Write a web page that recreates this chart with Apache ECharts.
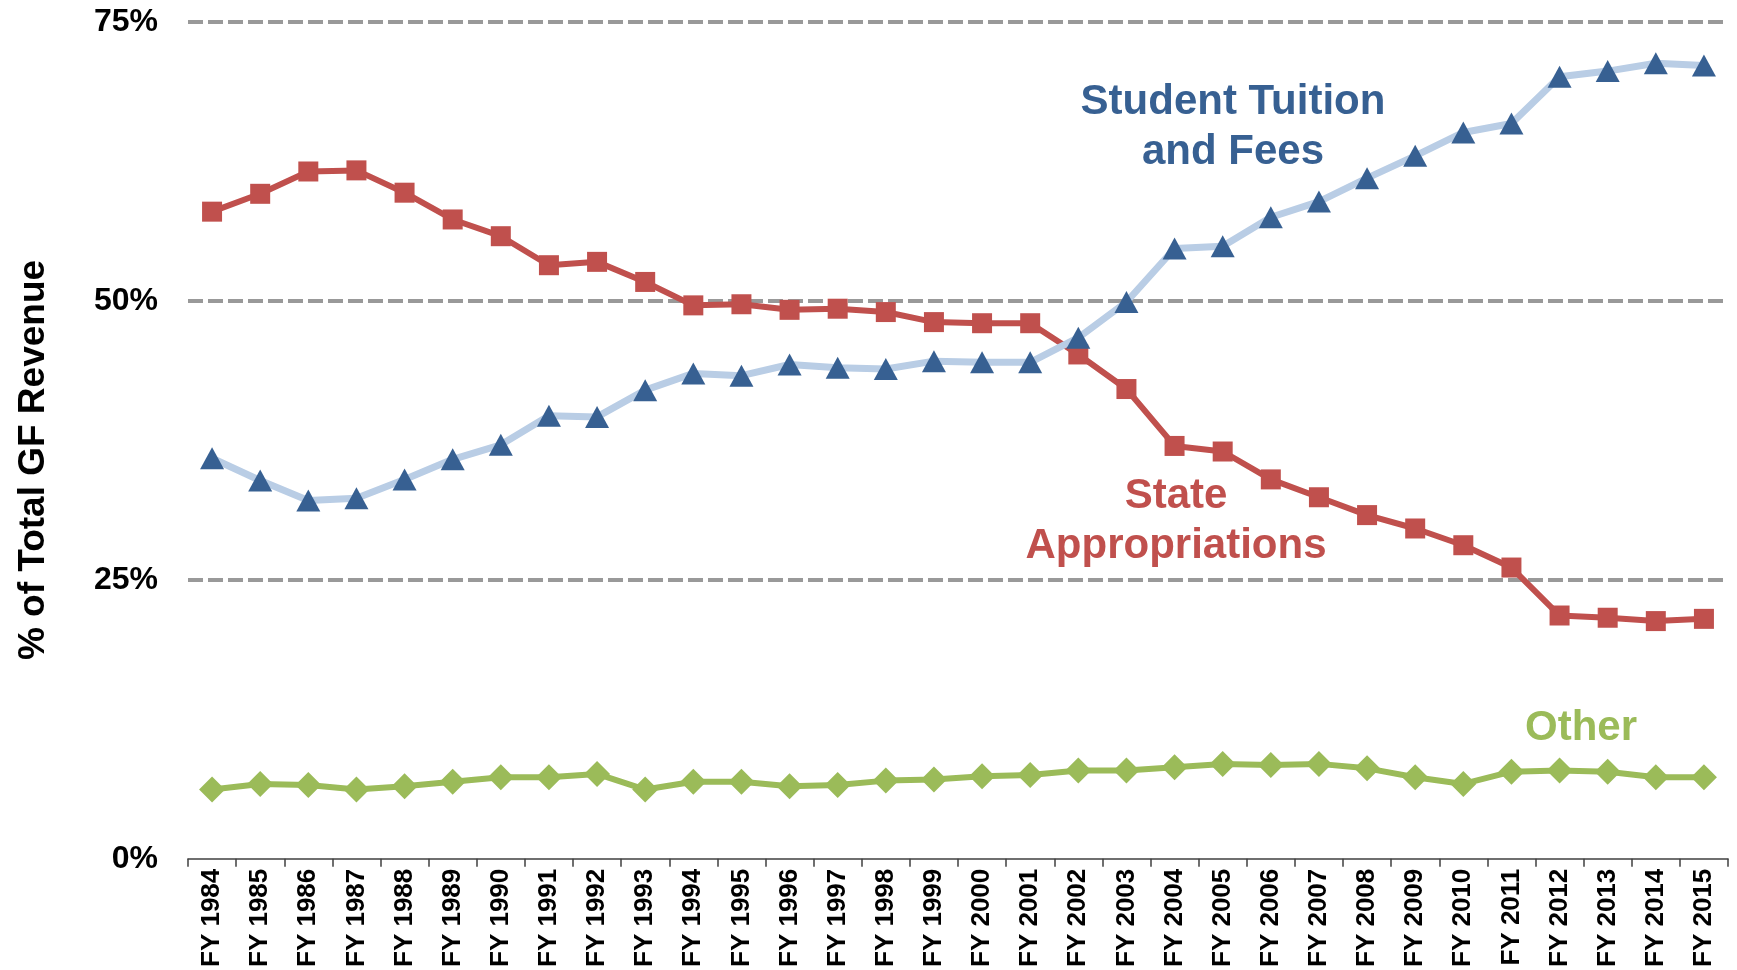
<!DOCTYPE html>
<html>
<head>
<meta charset="utf-8">
<title>Share of Total GF Revenue</title>
<script src="https://cdn.jsdelivr.net/npm/echarts@6/dist/echarts.min.js"></script>
<style>
  html, body { margin: 0; padding: 0; background: #fff; }
  #chart { width: 1737px; height: 970px; }
</style>
</head>
<body>
<div id="chart"></div>
<script>
// fiscal years on the x axis
const years = [
  'FY 1984', 'FY 1985', 'FY 1986', 'FY 1987', 'FY 1988', 'FY 1989', 'FY 1990', 'FY 1991',
  'FY 1992', 'FY 1993', 'FY 1994', 'FY 1995', 'FY 1996', 'FY 1997', 'FY 1998', 'FY 1999',
  'FY 2000', 'FY 2001', 'FY 2002', 'FY 2003', 'FY 2004', 'FY 2005', 'FY 2006', 'FY 2007',
  'FY 2008', 'FY 2009', 'FY 2010', 'FY 2011', 'FY 2012', 'FY 2013', 'FY 2014', 'FY 2015'
];

// % of total GF revenue
const tuition = [
  35.9, 33.9, 32.1, 32.3, 34.0, 35.8, 37.1, 39.7,
  39.6, 42.0, 43.5, 43.3, 44.3, 44.0, 43.9, 44.6,
  44.5, 44.5, 46.7, 49.9, 54.7, 54.9, 57.5, 58.9,
  61.0, 63.0, 65.1, 65.9, 70.1, 70.6, 71.3, 71.1
];
const stateApprop = [
  58.0, 59.6, 61.6, 61.7, 59.7, 57.3, 55.8, 53.2,
  53.5, 51.7, 49.6, 49.7, 49.2, 49.3, 49.0, 48.1,
  48.0, 48.0, 45.2, 42.1, 37.0, 36.5, 34.0, 32.4,
  30.8, 29.6, 28.1, 26.1, 21.8, 21.6, 21.3, 21.5
];
const other = [
  6.2, 6.7, 6.6, 6.2, 6.5, 6.9, 7.3, 7.3,
  7.6, 6.2, 6.9, 6.9, 6.5, 6.6, 7.0, 7.1,
  7.4, 7.5, 7.9, 7.9, 8.2, 8.5, 8.4, 8.5,
  8.1, 7.3, 6.7, 7.8, 7.9, 7.8, 7.3, 7.3
];

// y axis ticks
const yMin = 0;
const yMax = 75;
const yStep = 25;

const FONT = '"Liberation Sans", Arial, sans-serif';

const chart = echarts.init(document.getElementById('chart'));

chart.setOption({
  animation: false,
  backgroundColor: '#fff',
  grid: {
    left: 188,
    right: 9,
    top: 22,
    bottom: 110
  },
  xAxis: {
    type: 'category',
    data: years,
    boundaryGap: true,
    axisLine: {
      show: true,
      lineStyle: { color: '#404040', width: 1.5 }
    },
    axisTick: {
      show: true,
      length: 8,
      inside: false,
      lineStyle: { color: '#404040', width: 1.5 }
    },
    axisLabel: {
      rotate: 90,
      interval: 0,
      margin: 10,
      color: '#000',
      fontFamily: FONT,
      fontWeight: 'bold',
      fontSize: 26
    },
    splitLine: { show: false }
  },
  yAxis: {
    type: 'value',
    min: yMin,
    max: yMax,
    interval: yStep,
    axisLine: { show: false },
    axisTick: { show: false },
    axisLabel: {
      margin: 30,
      color: '#000',
      fontFamily: FONT,
      fontWeight: 'bold',
      fontSize: 32,
      formatter: '{value}%'
    },
    splitLine: {
      show: true,
      showMinLine: false,
      lineStyle: {
        color: '#999999',
        width: 4,
        type: [15, 5]
      }
    }
  },
  series: [
    {
      name: 'Student Tuition and Fees',
      type: 'line',
      data: tuition,
      symbol: 'triangle',
      symbolSize: [24, 22],
      lineStyle: { color: '#B9CDE5', width: 7 },
      itemStyle: { color: '#376092' },
      z: 3
    },
    {
      name: 'State Appropriations',
      type: 'line',
      data: stateApprop,
      symbol: 'rect',
      symbolSize: 20,
      lineStyle: { color: '#C0504D', width: 6 },
      itemStyle: { color: '#C0504D' },
      z: 2
    },
    {
      name: 'Other',
      type: 'line',
      data: other,
      symbol: 'diamond',
      symbolSize: 26,
      lineStyle: { color: '#9BBB59', width: 6 },
      itemStyle: { color: '#9BBB59' },
      z: 2
    }
  ],
  graphic: [
    {
      type: 'text',
      x: 34,
      y: 460,
      rotation: Math.PI / 2,
      style: {
        text: '% of Total GF Revenue',
        fill: '#000',
        font: 'bold 37px ' + FONT,
        align: 'center',
        verticalAlign: 'middle'
      }
    },
    {
      type: 'text',
      x: 1233,
      y: 127,
      style: {
        text: 'Student Tuition\nand Fees',
        fill: '#376092',
        font: 'bold 42px ' + FONT,
        lineHeight: 50,
        align: 'center',
        verticalAlign: 'middle'
      }
    },
    {
      type: 'text',
      x: 1176,
      y: 521,
      style: {
        text: 'State\nAppropriations',
        fill: '#C0504D',
        font: 'bold 42px ' + FONT,
        lineHeight: 50,
        align: 'center',
        verticalAlign: 'middle'
      }
    },
    {
      type: 'text',
      x: 1581,
      y: 728,
      style: {
        text: 'Other',
        fill: '#9BBB59',
        font: 'bold 42px ' + FONT,
        align: 'center',
        verticalAlign: 'middle'
      }
    }
  ]
});
</script>
</body>
</html>
